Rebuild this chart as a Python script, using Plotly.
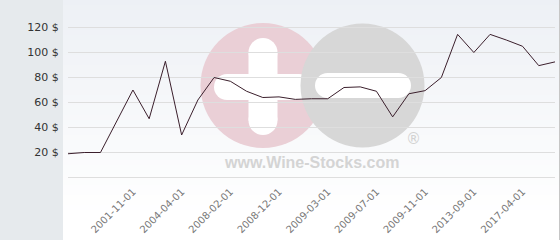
import plotly.graph_objects as go

# ---- data ----
values = [19, 20, 20, 45, 70, 47, 93, 34, 62, 80, 77, 69, 64, 64.5, 62.5, 63,
          63, 72, 72.5, 69, 48.5, 67, 69.5, 80, 114.5, 100, 114.5, 110, 105, 89.5, 92.5]
tick_idx = [4, 7, 10, 13, 16, 19, 22, 25, 28]
tick_labels = ["2001-11-01", "2004-04-01", "2008-02-01", "2008-12-01", "2009-03-01",
               "2009-07-01", "2009-11-01", "2013-09-01", "2017-04-01"]
y_ticks = [0, 20, 40, 60, 80, 100, 120]
y_labels = ["", "20 $", "40 $", "60 $", "80 $", "100 $", "120 $"]

W, H = 560, 240
L, R, T, B = 68, 555, 15, 178


def px(x):
    return (x - L) / (R - L)


def py(y):
    return (B - y) / (B - T)


shapes = []
# gradient background right of the grey panel
n = 48
for i in range(n):
    y0 = i * H / n
    y1 = (i + 1) * H / n
    f = min(1.0, (y0 + y1) / 2 / 215)
    c0 = (237, 240, 245)
    col = tuple(int(round(c + (255 - c) * f)) for c in c0)
    shapes.append(dict(type="rect", xref="paper", yref="paper", layer="below",
                       x0=px(63), x1=px(560), y0=py(y1), y1=py(y0),
                       fillcolor="rgb(%d,%d,%d)" % col, line=dict(width=0)))


def circ(cx, cy, r, color):
    shapes.append(dict(type="circle", xref="paper", yref="paper", layer="below",
                       x0=px(cx - r), x1=px(cx + r), y0=py(cy + r), y1=py(cy - r),
                       fillcolor=color, line=dict(width=0)))


def rect(x0, y0, x1, y1, color):
    shapes.append(dict(type="rect", xref="paper", yref="paper", layer="below",
                       x0=px(x0), x1=px(x1), y0=py(y1), y1=py(y0),
                       fillcolor=color, line=dict(width=0)))


def pill(x0, y0, x1, y1, color):
    r = min(x1 - x0, y1 - y0) / 2
    if (x1 - x0) >= (y1 - y0):
        rect(x0 + r, y0, x1 - r, y1, color)
        circ(x0 + r, (y0 + y1) / 2, r, color)
        circ(x1 - r, (y0 + y1) / 2, r, color)
    else:
        rect(x0, y0 + r, x1, y1 - r, color)
        circ((x0 + x1) / 2, y0 + r, r, color)
        circ((x0 + x1) / 2, y1 - r, r, color)


# watermark
pink = "#eacfd6"
grey = "#d7d7d7"
white = "#ffffff"
circ(263, 85.5, 62.5, pink)
pill(248.5, 38, 277.5, 135, white)
pill(214, 74, 312, 100, white)
circ(362.5, 85.5, 62, grey)
pill(315, 73, 411, 98, white)

# right border
shapes.append(dict(type="line", xref="paper", yref="paper", layer="above",
                   x0=px(559.5), x1=px(559.5), y0=py(240), y1=py(0),
                   line=dict(color="#c6c6c6", width=1)))

annotations = [
    dict(text="www.Wine-Stocks.com", xref="paper", yref="paper",
         x=px(311.5), y=py(162), xanchor="center", yanchor="middle", showarrow=False,
         font=dict(family="Liberation Sans", size=16, color="#d4d4d4", weight="bold")),
    dict(text="®", xref="paper", yref="paper",
         x=px(413), y=py(139), xanchor="center", yanchor="middle", showarrow=False,
         font=dict(family="DejaVu Sans", size=15, color="#d2d2d2")),
]

fig = go.Figure()
fig.add_trace(go.Scatter(x=list(range(len(values))), y=values, mode="lines",
                         line=dict(color="#3b1f2c", width=1), hoverinfo="skip"))

fig.update_layout(
    width=W, height=H,
    margin=dict(l=L, r=W - R, t=T, b=H - B),
    paper_bgcolor="#e6eaed",
    plot_bgcolor="rgba(0,0,0,0)",
    showlegend=False,
    shapes=shapes,
    annotations=annotations,
)
fig.update_xaxes(range=[0, len(values) - 1], tickmode="array", tickvals=tick_idx,
                 ticktext=tick_labels, tickangle=-45, showgrid=False, zeroline=False,
                 automargin=False,
                 ticks="outside", ticklen=3, tickcolor="rgba(0,0,0,0)",
                 tickfont=dict(family="DejaVu Sans", size=10, color="#777777"))
fig.update_yaxes(range=[-0.4, 130], tickmode="array", tickvals=y_ticks, ticktext=y_labels,
                 showgrid=True, gridcolor="#dedede", gridwidth=1,
                 zeroline=True, zerolinecolor="#dedede", zerolinewidth=1,
                 automargin=False,
                 ticks="outside", ticklen=6, tickcolor="rgba(0,0,0,0)",
                 tickfont=dict(family="DejaVu Sans", size=11, color="#333333"))

fig.write_html("out.html")
